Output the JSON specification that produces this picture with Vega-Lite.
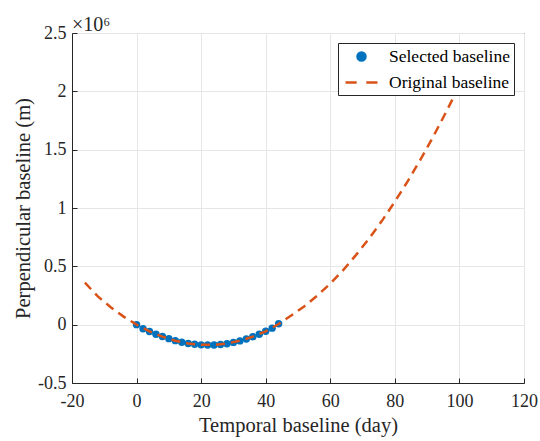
{
  "$schema": "https://vega.github.io/schema/vega-lite/v6.json",
  "width": 452,
  "height": 350,
  "autosize": {"type": "none"},
  "padding": {"left": 72, "top": 33, "right": 16, "bottom": 58},
  "background": "white",
  "config": {
    "font": "Liberation Serif",
    "view": {"stroke": "#262626", "strokeWidth": 1},
    "axis": {
      "domainColor": "#262626",
      "tickColor": "#262626",
      "gridColor": "#e6e6e6",
      "labelFont": "Liberation Serif",
      "titleFont": "Liberation Serif",
      "labelFontSize": 18,
      "titleFontSize": 20.5,
      "labelColor": "#262626",
      "titleColor": "#262626",
      "titleFontWeight": "normal",
      "tickSize": -5
    }
  },
  "title": {
    "text": "×10⁶",
    "anchor": "start",
    "frame": "group",
    "font": "Liberation Serif",
    "fontSize": 20,
    "fontWeight": "normal",
    "color": "#262626",
    "offset": -11
  },
  "data": {
    "values": [
      {"series": "Selected baseline", "t": 0, "bp": 0},
      {"series": "Selected baseline", "t": 2, "bp": -35000},
      {"series": "Selected baseline", "t": 4, "bp": -58000},
      {"series": "Selected baseline", "t": 6, "bp": -82000},
      {"series": "Selected baseline", "t": 8, "bp": -102000},
      {"series": "Selected baseline", "t": 10, "bp": -120000},
      {"series": "Selected baseline", "t": 12, "bp": -137000},
      {"series": "Selected baseline", "t": 14, "bp": -151000},
      {"series": "Selected baseline", "t": 16, "bp": -162000},
      {"series": "Selected baseline", "t": 18, "bp": -168000},
      {"series": "Selected baseline", "t": 20, "bp": -173000},
      {"series": "Selected baseline", "t": 22, "bp": -174000},
      {"series": "Selected baseline", "t": 24, "bp": -174000},
      {"series": "Selected baseline", "t": 26, "bp": -170000},
      {"series": "Selected baseline", "t": 28, "bp": -163000},
      {"series": "Selected baseline", "t": 30, "bp": -152000},
      {"series": "Selected baseline", "t": 32, "bp": -139000},
      {"series": "Selected baseline", "t": 34, "bp": -123000},
      {"series": "Selected baseline", "t": 36, "bp": -104000},
      {"series": "Selected baseline", "t": 38, "bp": -82000},
      {"series": "Selected baseline", "t": 40, "bp": -57000},
      {"series": "Selected baseline", "t": 42, "bp": -30000},
      {"series": "Selected baseline", "t": 44, "bp": 8000},
      {"series": "Original baseline", "t": -16, "bp": 360000},
      {"series": "Original baseline", "t": -12, "bp": 242000},
      {"series": "Original baseline", "t": -8, "bp": 150000},
      {"series": "Original baseline", "t": -4, "bp": 69000},
      {"series": "Original baseline", "t": 0, "bp": 0},
      {"series": "Original baseline", "t": 4, "bp": -57000},
      {"series": "Original baseline", "t": 8, "bp": -103000},
      {"series": "Original baseline", "t": 12, "bp": -138000},
      {"series": "Original baseline", "t": 16, "bp": -161000},
      {"series": "Original baseline", "t": 20, "bp": -173000},
      {"series": "Original baseline", "t": 24, "bp": -173000},
      {"series": "Original baseline", "t": 28, "bp": -161000},
      {"series": "Original baseline", "t": 32, "bp": -138000},
      {"series": "Original baseline", "t": 36, "bp": -103000},
      {"series": "Original baseline", "t": 40, "bp": -57000},
      {"series": "Original baseline", "t": 44, "bp": 6000},
      {"series": "Original baseline", "t": 48, "bp": 80000},
      {"series": "Original baseline", "t": 52, "bp": 158000},
      {"series": "Original baseline", "t": 56, "bp": 250000},
      {"series": "Original baseline", "t": 60, "bp": 352000},
      {"series": "Original baseline", "t": 64, "bp": 468000},
      {"series": "Original baseline", "t": 68, "bp": 598000},
      {"series": "Original baseline", "t": 72, "bp": 738000},
      {"series": "Original baseline", "t": 76, "bp": 890000},
      {"series": "Original baseline", "t": 80, "bp": 1055000},
      {"series": "Original baseline", "t": 84, "bp": 1230000},
      {"series": "Original baseline", "t": 88, "bp": 1418000},
      {"series": "Original baseline", "t": 92, "bp": 1618000},
      {"series": "Original baseline", "t": 96, "bp": 1830000},
      {"series": "Original baseline", "t": 100, "bp": 2050000}
    ]
  },
  "encoding": {
    "x": {
      "field": "t",
      "type": "quantitative",
      "title": "Temporal baseline (day)",
      "scale": {"domain": [-20, 120], "nice": false, "zero": false},
      "axis": {"values": [-20, 0, 20, 40, 60, 80, 100, 120], "labelExpr": "'' + datum.value", "labelPadding": 14, "titlePadding": 5, "labelFlush": false}
    },
    "y": {
      "field": "bp",
      "type": "quantitative",
      "title": "Perpendicular baseline (m)",
      "scale": {"domain": [-500000, 2500000], "nice": false, "zero": false},
      "axis": {"values": [-500000, 0, 500000, 1000000, 1500000, 2000000, 2500000], "labelExpr": "'' + datum.value / 1000000", "labelPadding": 11, "titlePadding": 4, "labelFlush": false}
    },
    "color": {
      "field": "series",
      "type": "nominal",
      "scale": {"domain": ["Selected baseline", "Original baseline"], "range": ["#0072BD", "#D95319"]},
      "legend": {
        "title": null,
        "orient": "none",
        "legendX": 266,
        "legendY": 10,
        "fillColor": "white",
        "strokeColor": "#262626",
        "padding": 4,
        "labelFont": "Liberation Serif",
        "labelFontSize": 17.5,
        "labelColor": "black",
        "rowPadding": 7,
        "symbolSize": 256,
        "symbolStrokeWidth": 2.5,
        "symbolOffset": 10,
        "labelOffset": 18,
        "encode": {
          "symbols": {
            "update": {
              "shape": {"signal": "datum.label === 'Selected baseline' ? 'M-0.5,0A0.5,0.5 0 1,0 0.5,0A0.5,0.5 0 1,0 -0.5,0Z' : 'M-2,0L-0.6,0M0.6,0L2,0'"},
              "size": {"value": 256},
              "fill": {"signal": "datum.label === 'Selected baseline' ? '#0072BD' : 'transparent'"},
              "stroke": {"signal": "datum.label === 'Selected baseline' ? 'transparent' : '#D95319'"},
              "strokeWidth": {"value": 2.5},
              "opacity": {"value": 1}
            }
          }
        }
      }
    }
  },
  "layer": [
    {
      "transform": [{"filter": "datum.series === 'Selected baseline'"}],
      "mark": {"type": "point", "filled": true, "size": 55, "opacity": 1, "shape": "circle"}
    },
    {
      "transform": [{"filter": "datum.series === 'Original baseline'"}],
      "mark": {"type": "line", "strokeWidth": 2.5, "strokeDash": [9, 6]}
    }
  ]
}
